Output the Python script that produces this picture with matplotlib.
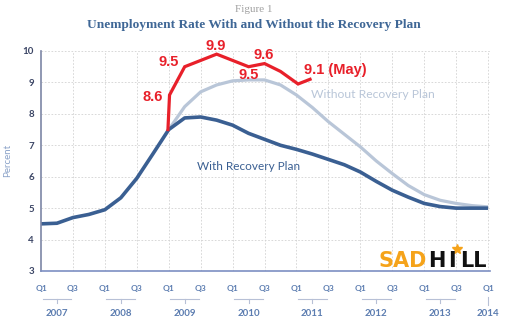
import matplotlib.pyplot as plt
import matplotlib.transforms as mtransforms
import numpy as np

# quarters since 2007 Q1
quarters = np.arange(29)
with_plan = [4.5, 4.52, 4.7, 4.8, 4.95, 5.33, 5.95, 6.72, 7.5, 7.87, 7.9, 7.8,
             7.64, 7.38, 7.19, 7.0, 6.87, 6.72, 6.55, 6.38, 6.15, 5.85, 5.57,
             5.35, 5.15, 5.05, 5.0, 5.0, 5.0]

without_x = np.arange(8, 29)
without_plan = [7.5, 8.23, 8.7, 8.92, 9.05, 9.08, 9.08, 8.92, 8.6, 8.2, 7.75,
                7.35, 6.95, 6.5, 6.1, 5.72, 5.43, 5.25, 5.15, 5.08, 5.04]

actual_x = [7.95, 8.05, 9.0, 11.0, 13.0, 14.0, 15.0, 16.1, 16.85]
actual = [7.5, 8.6, 9.5, 9.9, 9.5, 9.6, 9.35, 8.95, 9.1]

years = ['2007', '2008', '2009', '2010', '2011', '2012', '2013', '2014']

BLUE = '#3a5f92'
GRAY = '#b9c6d8'
RED = '#e8202a'
TICKBLUE = '#5b7cb0'

fig = plt.figure(figsize=(5.06, 3.26), dpi=100)
ax = fig.add_axes([41 / 506, 1 - 271 / 326, 449 / 506, 220 / 326])

ax.plot(without_x, without_plan, color=GRAY, lw=2.3, solid_capstyle='butt')
ax.plot(quarters, with_plan, color=BLUE, lw=2.6, solid_capstyle='butt')
ax.plot(actual_x, actual, color=RED, lw=2.3, solid_joinstyle='miter')

ax.set_xlim(0, 28.12)
ax.set_ylim(3, 10)

# grid
for v in range(4, 11):
    ax.axhline(v, color='#d2d2d2', lw=0.6, ls=(0, (2, 2)), zorder=0)
for q in range(2, 29, 2):
    ax.axvline(q, color='#d2d2d2', lw=0.6, ls=(0, (2, 2)), zorder=0)

for s in ['top', 'right']:
    ax.spines[s].set_visible(False)
ax.spines['left'].set_color('#7d86a6')
ax.spines['bottom'].set_color('#7d8fc2')
ax.spines['left'].set_linewidth(1.2)
ax.spines['bottom'].set_linewidth(1.2)

ax.set_yticks(range(3, 11))
ax.tick_params(axis='y', length=0, pad=5, labelsize=7, labelcolor='#3b4565')
ax.set_xticks(range(0, 29, 2))
ax.set_xticklabels(['Q1', 'Q3'] * 7 + ['Q1'])
ax.tick_params(axis='x', length=0, pad=10, labelsize=6, labelcolor=TICKBLUE)
for lab in ax.get_xticklabels() + ax.get_yticklabels():
    lab.set_family('Lato')
    lab.set_weight('bold')

fig.text(8 / 506, 1 - 160 / 326, 'Percent', rotation=90, ha='center', va='center',
         fontsize=7, color='#8aa2c8', family='Lato')

# year brackets under the axis
trans = mtransforms.blended_transform_factory(ax.transData, ax.transAxes)
yb = -28 / 220
for i, yr in enumerate(years):
    q0 = i * 4
    if i < 7:
        ax.plot([q0 + 0.1, q0 + 1.9], [yb, yb], color='#b7c0d6', lw=0.8,
                transform=trans, clip_on=False)
        ax.plot([q0 + 1, q0 + 1], [yb, yb - 4 / 220], color='#b7c0d6', lw=0.8,
                transform=trans, clip_on=False)
        xc = q0 + 1
    else:
        ax.plot([q0, q0], [yb + 2 / 220, yb - 6 / 220], color='#b7c0d6', lw=0.8,
                transform=trans, clip_on=False)
        xc = q0
    ax.text(xc, -42 / 220, yr, transform=trans, ha='center', va='center',
            fontsize=7, color=TICKBLUE, family='Lato', weight='bold')

# red value labels
red_font = dict(color=RED, fontsize=10.5, weight='bold', family='Liberation Sans',
                ha='center', va='center')
ax.text(7.0, 8.55, '8.6', **red_font)
ax.text(8.0, 9.65, '9.5', **red_font)
ax.text(10.94, 10.16, '9.9', clip_on=False, **red_font)
ax.text(13.0, 9.24, '9.5', **red_font)
ax.text(13.95, 9.87, '9.6', **red_font)
ax.text(16.44, 9.4, '9.1 (May)', color=RED, fontsize=10.5, weight='bold',
        family='Liberation Sans', ha='left', va='center')

ax.text(16.9, 8.63, 'Without Recovery Plan', color=GRAY, fontsize=8.7,
        family='Lato', ha='left', va='center')
ax.text(9.8, 6.34, 'With Recovery Plan', color=BLUE, fontsize=8.5,
        family='Lato', ha='left', va='center')

# logo
logo = dict(fontsize=15, weight='bold', family='DejaVu Sans', va='center')
ax.text(24.19, 3.33, 'SAD', color='#f5a31a', ha='right', **logo)
ax.text(24.25, 3.33, 'H', color='#111111', ha='left', **logo)
ax.text(25.75, 3.33, 'I', color='#111111', ha='center', **logo)
ax.text(26.25, 3.33, 'LL', color='#111111', ha='left', **logo)
ax.plot([26.06], [3.7], marker='*', color='#f5a31a', ms=7)

# titles
fig.text(0.502, 1 - 10 / 326, 'Figure 1', ha='center', va='center', fontsize=8,
         color='#a0a0a0', family='Liberation Serif')
fig.text(0.502, 1 - 25 / 326, 'Unemployment Rate With and Without the Recovery Plan',
         ha='center', va='center', fontsize=9.6, color='#3f6796',
         family='Liberation Serif', weight='bold')

fig.savefig('out.png', dpi=100)
